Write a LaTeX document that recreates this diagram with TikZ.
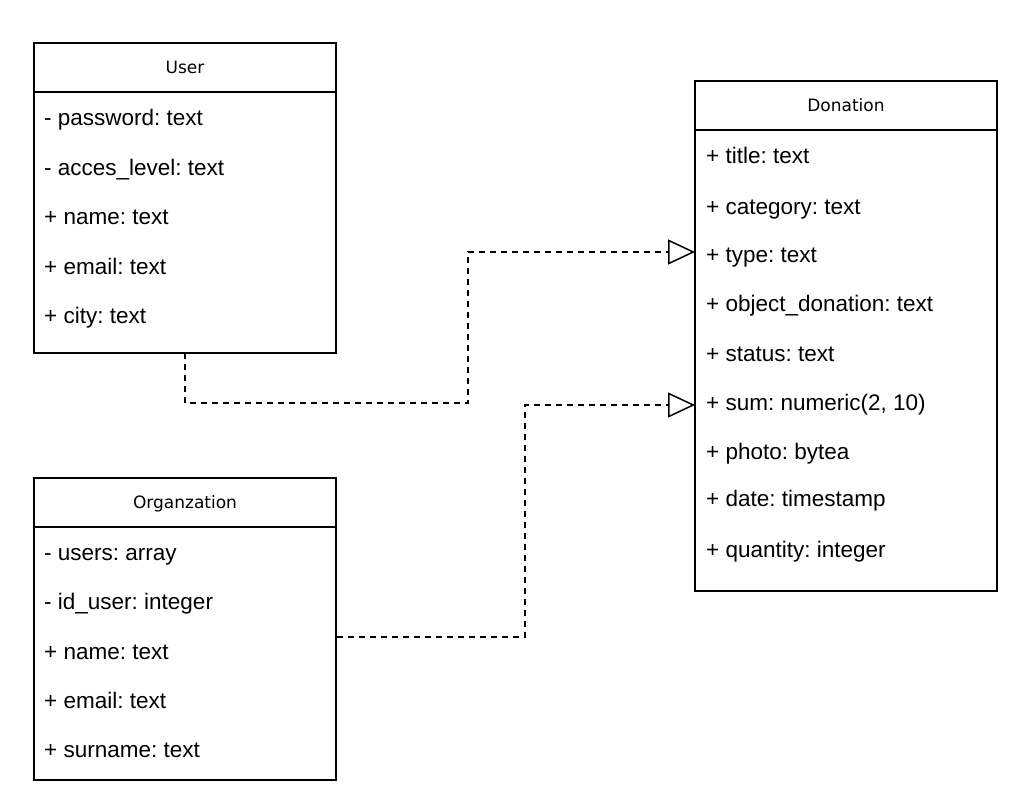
\documentclass[tikz,border=0pt]{standalone}
\usepackage{fontspec}
\setmainfont{Liberation Sans}
\newfontfamily\attrfont{Liberation Sans}
\newfontfamily\titlefont{DejaVu Sans}
\usetikzlibrary{arrows.meta,calc}
\frenchspacing

\tikzset{
  classbox/.style={draw=black, line width=1.6pt, fill=white, anchor=north west,
    minimum width=302pt, inner sep=0pt, outer sep=0pt},
  title/.style={font=\titlefont\fontsize{17}{20}\selectfont, anchor=base, inner sep=0pt},
  attr/.style={font=\attrfont\fontsize{22.5}{24}\selectfont, anchor=base west, inner sep=0pt},
  sepline/.style={line width=1.6pt},
  dep/.style={line width=1.5pt, dash pattern=on 6pt off 5pt,
    -{Triangle[open, length=27pt, width=25pt, line width=1.5pt, fill=white]}},
}

\begin{document}
\begin{tikzpicture}[x=1pt, y=-1pt]
\useasboundingbox (0,0) rectangle (1026,798);

% ---- User class ----
\node[classbox, minimum height=310pt] (user) at (34,43) {};
\draw[sepline] (34,92) -- (336,92);
\node[title] (usert) at (185,73.5) {User};
\foreach \txt [count=\i from 0] in {- password: text, - acces\_level: text, + name: text, + email: text, + city: text}
  \node[attr] (ua\i) at (44,{125.5+49.5*\i}) {\txt};

% ---- Organization class ----
\node[classbox, minimum height=302pt] (org) at (34,478) {};
\draw[sepline] (34,527) -- (336,527);
\node[title] (orgt) at (185,508.5) {Organzation};
\foreach \txt [count=\i from 0] in {- users: array, - id\_user: integer, + name: text, + email: text, + surname: text}
  \node[attr] (oa\i) at (44,{560.5+49.3*\i}) {\txt};

% ---- Donation class ----
\node[classbox, minimum height=510pt] (don) at (695,81) {};
\draw[sepline] (695,130) -- (997,130);
\node[title] (dont) at (846,111.5) {Donation};
\foreach \txt/\y [count=\i from 0] in {+ title: text/156, + category: text/207, + type: text/255, + object\_donation: text/304, + status: text/354, + sum: numeric(2{,} 10)/403, + photo: bytea/452, + date: timestamp/499, + quantity: integer/550}
  \node[attr] (da\i) at (706,{\y+7.5}) {\txt};

% ---- dependency connectors ----
\coordinate (b1) at (468,403);
\coordinate (t1) at (695,252);
\draw[dep] (user.south) |- (b1) |- (t1);

\coordinate (s2) at (337,637);
\coordinate (b2) at (525,405);
\coordinate (t2) at (695,405);
\draw[dep] (s2) -| (b2) -- (t2);
\end{tikzpicture}
\end{document}
